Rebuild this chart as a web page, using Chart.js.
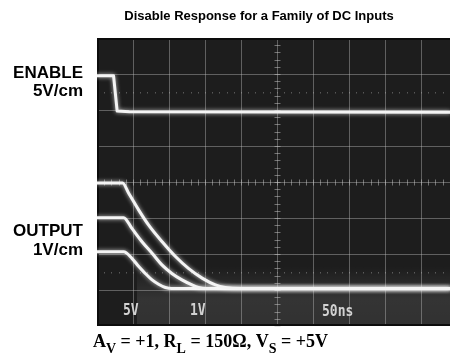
<!DOCTYPE html>
<html><head><meta charset="utf-8">
<script src="https://cdn.jsdelivr.net/npm/chart.js@4/dist/chart.umd.min.js"></script>
<style>html,body{margin:0;padding:0;background:#fff}#wrap{width:450px;height:358px}</style>
</head><body><div id="wrap"><canvas id="c" width="450" height="358"></canvas></div>
<script>
// ---- text ----
const chartTitle = "Disable Response for a Family of DC Inputs";
const enableLabel = ["ENABLE", "5V/cm"];
const outputLabel = ["OUTPUT", "1V/cm"];
const scopeReadouts = ["5V", "1V", "50ns"];
// ---- scope scale: x in ns (50 ns/div), y in screen divisions (0 = bottom, 8 = top) ----
const nsPerDiv = 50;
const xDivisions = 9.806;   // visible part of the 10-div graticule
const yDivisions = 8;
// ---- traces ----
const enableTime = [0, 23, 28, 45, 490];
const enableLevel = [6.95, 6.95, 5.97, 5.95, 5.94];

const out3Time = [0, 35.5, 44, 58, 71.5, 90.5, 109, 127, 146, 164.5, 178, 200, 490];
const out3Level = [3.97, 3.97, 3.69, 3.22, 2.81, 2.34, 1.93, 1.60, 1.33, 1.14, 1.07, 1.04, 1.04];

const out2Time = [0, 37, 48.5, 62.5, 76.5, 90.5, 104, 118, 132, 141, 152, 490];
const out2Level = [3.01, 3.01, 2.71, 2.34, 2.02, 1.69, 1.46, 1.28, 1.14, 1.07, 1.04, 1.04];

const out1Time = [0, 37, 48.5, 58, 67, 76.5, 85.5, 95, 104, 490];
const out1Level = [2.06, 2.06, 1.88, 1.65, 1.46, 1.28, 1.16, 1.07, 1.04, 1.04];

const pts = (t, v) => t.map((x, i) => ({x, y: v[i]}));

const TRACE = '#f4f4f4';

const scopePlugin = {
  id: 'scope',
  beforeDraw(chart) {
    const {ctx, chartArea: a, scales: {x, y}} = chart;
    ctx.save();
    ctx.fillStyle = '#ffffff';
    ctx.fillRect(0, 0, chart.width, chart.height);
    // screen
    ctx.fillStyle = '#1d1d1d';
    ctx.fillRect(a.left, a.top, a.right - a.left, a.bottom - a.top);
    // haze around the baseline
    const yb = y.getPixelForValue(1.04);
    const g = ctx.createLinearGradient(0, yb - 22, 0, a.bottom);
    g.addColorStop(0, 'rgba(255,255,255,0)');
    g.addColorStop(0.55, 'rgba(255,255,255,0.10)');
    g.addColorStop(1, 'rgba(255,255,255,0.09)');
    ctx.fillStyle = g;
    ctx.fillRect(a.left + 40, yb - 22, a.right - a.left - 40, a.bottom - yb + 22);
    // graticule
    ctx.strokeStyle = 'rgba(190,190,190,0.42)';
    ctx.lineWidth = 1;
    ctx.beginPath();
    for (let i = 1; i <= 9; i++) {
      const px = Math.round(x.getPixelForValue(i * nsPerDiv)) + 0.5;
      ctx.moveTo(px, a.top); ctx.lineTo(px, a.bottom);
    }
    for (let j = 1; j < yDivisions; j++) {
      const py = Math.round(y.getPixelForValue(j)) + 0.5;
      ctx.moveTo(a.left, py); ctx.lineTo(a.right, py);
    }
    ctx.stroke();
    // minor ticks on centre lines
    const cx = Math.round(x.getPixelForValue(5 * nsPerDiv)) + 0.5;
    const cy = Math.round(y.getPixelForValue(4)) + 0.5;
    ctx.strokeStyle = 'rgba(200,200,200,0.5)';
    ctx.beginPath();
    for (let k = 0; k <= yDivisions * 5; k++) {
      const py = Math.round(y.getPixelForValue(k / 5)) + 0.5;
      ctx.moveTo(cx - 3, py); ctx.lineTo(cx + 3, py);
    }
    for (let k = 0; k <= 50; k++) {
      const px = Math.round(x.getPixelForValue(k * nsPerDiv / 5)) + 0.5;
      ctx.moveTo(px, cy - 3); ctx.lineTo(px, cy + 3);
    }
    ctx.stroke();
    // dotted 0% / 100% lines
    ctx.fillStyle = 'rgba(200,200,200,0.35)';
    [1.5, 6.5].forEach(v => {
      const py = Math.round(y.getPixelForValue(v));
      for (let k = 1; k < 50; k++) {
        const px = Math.round(x.getPixelForValue(k * nsPerDiv / 5));
        ctx.fillRect(px, py, 1, 1.5);
      }
    });
    // screen border
    ctx.strokeStyle = '#0c0c0c';
    ctx.lineWidth = 2;
    ctx.strokeRect(a.left + 1, a.top + 1, a.right - a.left, a.bottom - a.top - 2);
    ctx.restore();
  },
  beforeDatasetDraw(chart) {
    const ctx = chart.ctx;
    ctx.save();
    ctx.shadowColor = 'rgba(255,255,255,0.75)';
    ctx.shadowBlur = 4;
  },
  afterDatasetDraw(chart) { chart.ctx.restore(); },
  afterDraw(chart) {
    const {ctx} = chart;
    ctx.save();
    // on-screen readouts
    ctx.fillStyle = '#d2d2d2';
    ctx.font = 'bold 13px "DejaVu Sans Mono"';
    ctx.textBaseline = 'alphabetic';
    const ro = [[123, 315], [190, 315], [322, 316]];
    scopeReadouts.forEach((s, i) => {
      ctx.save();
      ctx.translate(ro[i][0], ro[i][1]);
      ctx.scale(1, 1.25);
      ctx.fillText(s, 0, 0);
      ctx.restore();
    });
    // title
    ctx.fillStyle = '#000';
    ctx.font = 'bold 13px "Liberation Sans", Arial, sans-serif';
    ctx.textAlign = 'center';
    ctx.fillText(chartTitle, 259, 20);
    // channel labels
    ctx.textAlign = 'right';
    ctx.font = 'bold 17px "Liberation Sans", Arial, sans-serif';
    ctx.fillText(enableLabel[0], 83, 78);
    ctx.fillText(enableLabel[1], 83, 96);
    ctx.fillText(outputLabel[0], 83, 236);
    ctx.fillText(outputLabel[1], 83, 255);
    // caption with subscripts
    ctx.textAlign = 'left';
    const big = 'bold 18px "Liberation Serif", "Times New Roman", serif';
    const small = 'bold 14px "Liberation Serif", "Times New Roman", serif';
    const parts = [["A", 0], ["V", 1], [" = +1, R", 0], ["L", 1], [" = 150\u03A9, V", 0], ["S", 1], [" = +5V", 0]];
    let px = 93;
    parts.forEach(([t, sub]) => {
      ctx.font = sub ? small : big;
      ctx.fillText(t, px, sub ? 353 : 347);
      px += ctx.measureText(t).width;
    });
    ctx.restore();
  }
};

const lineStyle = {borderColor: TRACE, borderWidth: 3, pointRadius: 0, fill: false,
  cubicInterpolationMode: 'monotone', borderCapStyle: 'round', borderJoinStyle: 'round'};

new Chart(document.getElementById('c'), {
  type: 'line',
  data: {
    datasets: [
      Object.assign({label: 'ENABLE', data: pts(enableTime, enableLevel)}, lineStyle, {cubicInterpolationMode: 'default', tension: 0}),
      Object.assign({label: 'OUTPUT 3V', data: pts(out3Time, out3Level)}, lineStyle),
      Object.assign({label: 'OUTPUT 2V', data: pts(out2Time, out2Level)}, lineStyle),
      Object.assign({label: 'OUTPUT 1V', data: pts(out1Time, out1Level)}, lineStyle)
    ]
  },
  options: {
    responsive: false,
    animation: false,
    devicePixelRatio: 1,
    parsing: false,
    layout: {padding: {left: 97, top: 38, right: 0, bottom: 32}},
    plugins: {legend: {display: false}, tooltip: {enabled: false}, title: {display: false}},
    scales: {
      x: {type: 'linear', min: 0, max: xDivisions * nsPerDiv, display: false},
      y: {type: 'linear', min: 0, max: yDivisions, display: false}
    }
  },
  plugins: [scopePlugin]
});
</script>
</body></html>
